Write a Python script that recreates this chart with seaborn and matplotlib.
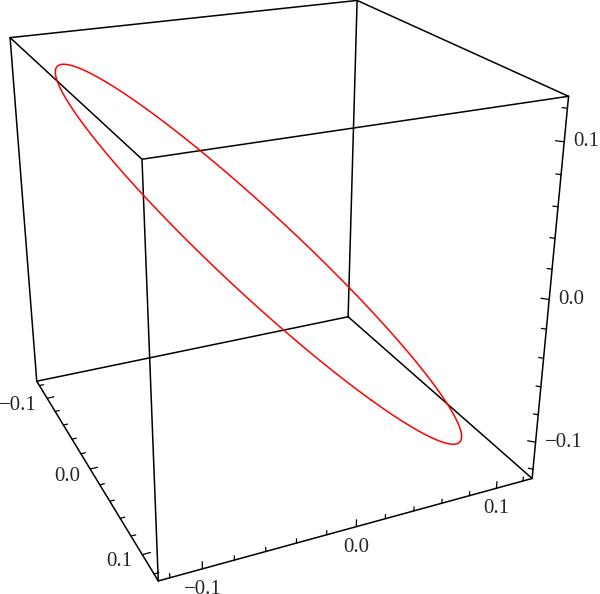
import numpy as np
import matplotlib
matplotlib.use("Agg")
import matplotlib.pyplot as plt
import matplotlib.transforms as mtransforms
import seaborn as sns

sns.set_style("white")
plt.rcParams['font.family'] = ['Liberation Serif', 'DejaVu Serif']

# axis range (same for x, y, z) and ticks
lim = 0.127
major_ticks = [-0.1, 0.0, 0.1]
minor_ticks = [-0.12, -0.08, -0.06, -0.04, -0.02, 0.02, 0.04, 0.06, 0.08, 0.12]

# ellipse: each coordinate is amplitude * cos(t - phase)
amplitude = [0.1272, 0.1267, 0.1260]   # x, y, z
phase = [0.0, 1.517, 4.384]             # radians

# camera
elev, azim, roll = 23.948, -24.554, -0.115
focal = 0.421
zoom = 1.117
shift_px = (-38.65, 32.39)

fig = plt.figure(figsize=(6, 5.94), dpi=100)
ax = fig.add_axes([shift_px[0] / 600, shift_px[1] / 594, 1, 1], projection='3d')
ax.set_xlim(-lim, lim)
ax.set_ylim(-lim, lim)
ax.set_zlim(-lim, lim)
ax.set_axis_off()
ax.view_init(elev=elev, azim=azim, roll=roll)
ax.set_proj_type('persp', focal_length=focal)
ax.set_box_aspect((1, 1, 1), zoom=zoom)

# box edges
for a in (-lim, lim):
    for b in (-lim, lim):
        ax.plot([-lim, lim], [a, a], [b, b], color='black', lw=1.1, clip_on=False)
        ax.plot([a, a], [-lim, lim], [b, b], color='black', lw=1.1, clip_on=False)
        ax.plot([a, a], [b, b], [-lim, lim], color='black', lw=1.1, clip_on=False)

# the curve
t = np.linspace(0, 2 * np.pi, 600)
xs = amplitude[0] * np.cos(t - phase[0])
ys = amplitude[1] * np.cos(t - phase[1])
zs = amplitude[2] * np.cos(t - phase[2])
ax.plot(xs, ys, zs, color='red', lw=1.1, clip_on=False)

# ticks on the three front edges
dz = np.array([-1, -1]) / np.sqrt(2)
for v in major_ticks + minor_ticks:
    ln = 0.005 if v in major_ticks else 0.003
    ax.plot([v, v], [-lim, -lim + ln], [-lim, -lim], color='black', lw=0.9, clip_on=False)
    ax.plot([lim, lim], [v, v], [-lim, -lim + ln], color='black', lw=0.9, clip_on=False)
    ax.plot([lim, lim + dz[0] * ln], [lim, lim + dz[1] * ln], [v, v], color='black', lw=0.9, clip_on=False)


def shifted(dx, dy):
    return mtransforms.offset_copy(ax.transData, fig=fig, x=dx, y=dy, units='dots')


for v in major_ticks:
    s = "0.0" if v == 0 else f"{v:.1f}".replace("-", "\u2212")
    ax.text(v, -lim, -lim, s, fontsize=15, ha='right', va='center', transform=shifted(-10, -7))
    ax.text(lim, v, -lim, s, fontsize=15, ha='center', va='top', transform=shifted(0, -11))
    ax.text(lim, lim, v, s, fontsize=15, ha='left', va='center', transform=shifted(9, 0))

fig.savefig("out.png", dpi=100)
